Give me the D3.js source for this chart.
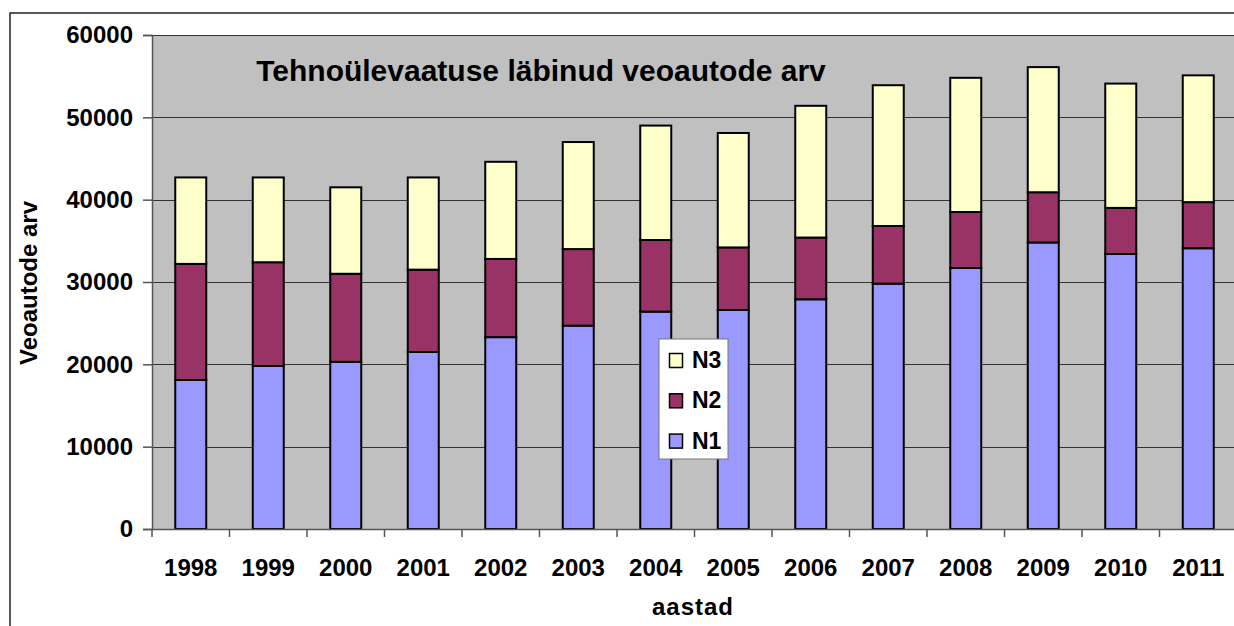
<!DOCTYPE html>
<html lang="et">
<head>
  <meta charset="UTF-8">
  <title>Tehnoülevaatuse läbinud veoautode arv</title>
  <script src="https://d3js.org/d3.v7.min.js"></script>
  <style>
    body { margin: 0; background: #fff; }
    svg text { font-family: "Liberation Sans", Arial, sans-serif; font-weight: bold; fill: #000; }
  </style>
</head>
<body>
  <div id="chart"></div>
  <script>
    const years = ['1998', '1999', '2000', '2001', '2002', '2003', '2004', '2005', '2006', '2007', '2008', '2009', '2010', '2011']
    const n1 = [18100, 19800, 20300, 21500, 23300, 24700, 26400, 26600, 27900, 29800, 31700, 34800, 33400, 34100]
    const n2 = [14100, 12600, 10700, 10000, 9500, 9300, 8700, 7600, 7500, 7000, 6800, 6100, 5600, 5600]
    const n3 = [10500, 10300, 10500, 11200, 11800, 13000, 13900, 13900, 16000, 17100, 16300, 15200, 15100, 15400]
    const seriesNames = ['N1', 'N2', 'N3']
    const yTicks = [0, 10000, 20000, 30000, 40000, 50000, 60000]

    const colors = { N1: '#9999FF', N2: '#993366', N3: '#FFFFCC' }

    const width = 1234
    const height = 626
    const plot = { left: 152, right: 1237, top: 35, bottom: 529 }

    const rows = years.map((y, i) => ({ year: y, N1: n1[i], N2: n2[i], N3: n3[i] }))

    const svg = d3.select('#chart').append('svg')
      .attr('width', width)
      .attr('height', height)

    // outer chart border
    svg.append('rect')
      .attr('x', 10).attr('y', 13)
      .attr('width', width + 20).attr('height', height + 20)
      .attr('fill', 'none')
      .attr('stroke', '#222')
      .attr('stroke-width', 1.5)

    const x = d3.scaleBand()
      .domain(years)
      .range([plot.left, plot.right])
      .paddingInner(0.6)
      .paddingOuter(0.3)

    const y = d3.scaleLinear()
      .domain([0, 60000])
      .range([plot.bottom, plot.top])

    // plot background
    svg.append('rect')
      .attr('x', plot.left).attr('y', plot.top)
      .attr('width', plot.right - plot.left)
      .attr('height', plot.bottom - plot.top)
      .attr('fill', '#C0C0C0')

    // gridlines
    svg.append('g')
      .selectAll('line')
      .data(yTicks.filter(d => d > 0))
      .enter().append('line')
      .attr('x1', plot.left).attr('x2', plot.right)
      .attr('y1', d => Math.round(y(d)) + 0.5)
      .attr('y2', d => Math.round(y(d)) + 0.5)
      .attr('stroke', '#333')
      .attr('stroke-width', 1.2)

    // y axis
    const yAxis = svg.append('g')
      .attr('transform', `translate(${plot.left},0)`)
      .call(d3.axisLeft(y).tickValues(yTicks).tickSize(9).tickPadding(10).tickFormat(d3.format('d')))
    yAxis.select('.domain').attr('stroke', '#555').attr('stroke-width', 1.5)
    yAxis.selectAll('.tick line').attr('stroke', '#555').attr('stroke-width', 1.5)
    yAxis.selectAll('text')
      .style('font-size', '24px')
      .style('font-family', '"Liberation Sans", Arial, sans-serif')
      .style('font-weight', 'bold')
      .attr('fill', '#000')

    // stacked bars
    const stack = d3.stack().keys(seriesNames)
    const layers = stack(rows)

    svg.append('g')
      .selectAll('g')
      .data(layers)
      .enter().append('g')
      .attr('fill', d => colors[d.key])
      .selectAll('rect')
      .data(d => d)
      .enter().append('rect')
      .attr('x', d => x(d.data.year))
      .attr('width', x.bandwidth())
      .attr('y', d => y(d[1]))
      .attr('height', d => y(d[0]) - y(d[1]))
      .attr('stroke', '#000')
      .attr('stroke-width', 2)

    // x axis line + ticks at category boundaries
    const step = x.step()
    const bounds = years.map(d => x(d) - step * x.paddingInner() / 2)
    bounds.push(bounds[bounds.length - 1] + step)

    const xg = svg.append('g')
    xg.append('line')
      .attr('x1', plot.left).attr('x2', plot.right)
      .attr('y1', plot.bottom + 0.5).attr('y2', plot.bottom + 0.5)
      .attr('stroke', '#555').attr('stroke-width', 1.5)
    xg.selectAll('.xt')
      .data(bounds)
      .enter().append('line')
      .attr('class', 'xt')
      .attr('x1', d => d).attr('x2', d => d)
      .attr('y1', plot.bottom).attr('y2', plot.bottom + 8)
      .attr('stroke', '#555').attr('stroke-width', 1.5)
    xg.selectAll('.xl')
      .data(years)
      .enter().append('text')
      .attr('class', 'xl')
      .attr('x', d => x(d) + x.bandwidth() / 2)
      .attr('y', 576)
      .attr('text-anchor', 'middle')
      .style('font-size', '24px')
      .text(d => d)

    // axis titles
    svg.append('text')
      .attr('x', 693).attr('y', 615)
      .attr('text-anchor', 'middle')
      .style('font-size', '24px')
      .style('letter-spacing', '1px')
      .text('aastad')

    svg.append('text')
      .attr('transform', 'translate(37,283) rotate(-90)')
      .attr('text-anchor', 'middle')
      .style('font-size', '24px')
      .text('Veoautode arv')

    // chart title
    svg.append('text')
      .attr('x', 541).attr('y', 81)
      .attr('text-anchor', 'middle')
      .style('font-size', '30px')
      .text('Tehnoülevaatuse läbinud veoautode arv')

    // legend
    const legend = svg.append('g').attr('transform', 'translate(659,339)')
    legend.append('rect')
      .attr('width', 69).attr('height', 120)
      .attr('fill', '#fff')
      .attr('stroke', '#777')
      .attr('stroke-width', 1)

    const legendItems = seriesNames.slice().reverse()
    const li = legend.selectAll('.li')
      .data(legendItems)
      .enter().append('g')
      .attr('class', 'li')
      .attr('transform', (d, i) => `translate(0,${14 + i * 40.3})`)
    li.append('rect')
      .attr('x', 10.5).attr('y', 0.5)
      .attr('width', 13).attr('height', 14)
      .attr('fill', d => colors[d])
      .attr('stroke', '#000')
      .attr('stroke-width', 1.5)
    li.append('text')
      .attr('x', 33).attr('y', 15)
      .style('font-size', '23px')
      .text(d => d)
  </script>
</body>
</html>
